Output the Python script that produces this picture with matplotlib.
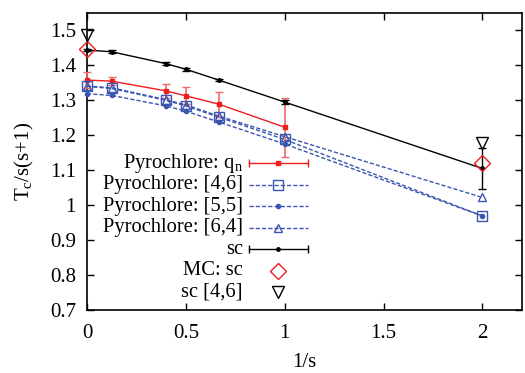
import matplotlib
matplotlib.use("Agg")
import matplotlib.pyplot as plt

plt.rcParams['font.family'] = ['Liberation Serif', 'DejaVu Serif']
plt.rcParams['mathtext.default'] = 'regular'

# 1/s values
x_all = [0, 0.125, 0.4, 0.5, 0.6667, 1.0, 2.0]
x_qn = [0, 0.125, 0.4, 0.5, 0.6667, 1.0]

# Pyrochlore: q_n
qn_y = [1.358, 1.355, 1.327, 1.313, 1.289, 1.223]
qn_err = [0.022, 0.012, 0.019, 0.024, 0.036, 0.084]

# Pyrochlore approximants
p46_y = [1.340, 1.334, 1.300, 1.284, 1.252, 1.188, 0.969]
p55_y = [1.319, 1.314, 1.284, 1.269, 1.238, 1.175, 0.969]
p64_y = [1.341, 1.336, 1.302, 1.287, 1.255, 1.196, 1.022]

# simple cubic
sc_y = [1.444, 1.439, 1.405, 1.389, 1.358, 1.295, 1.105]
sc_err = [0.004, 0.004, 0.004, 0.004, 0.004, 0.005, 0.058]

# Monte Carlo sc and sc [4,6]
x_ref = [0, 2.0]
mc_y = [1.447, 1.122]
sc46_y = [1.486, 1.178]

red = '#ee1c1c'
blue = '#3a56b0'
fs = 15

fig = plt.figure(figsize=(5.25, 3.73), dpi=100)
ax = fig.add_axes([87/525, 1 - 310/373, 435/525, 297/373])

ax.errorbar(x_qn, qn_y, yerr=qn_err, color=red, ecolor='#f06a6a', lw=1,
            elinewidth=1.2, capsize=3, marker='s', ms=3, clip_on=False, zorder=3)
ax.plot(x_all, p46_y, ls='--', dashes=(3, 1.5), color=blue, lw=1, marker='s',
        ms=6.5, mfc='none', mew=1, clip_on=False, zorder=4)
ax.plot(x_all, p55_y, ls='--', dashes=(3, 1.5), color=blue, lw=1, marker='o',
        ms=3, clip_on=False, zorder=4)
ax.plot(x_all, p64_y, ls='--', dashes=(3, 1.5), color=blue, lw=1, marker='^',
        ms=6, mfc='none', mew=1, clip_on=False, zorder=4)
ax.errorbar(x_all, sc_y, yerr=sc_err, color='black', lw=1, elinewidth=1,
            capsize=3, marker='o', ms=2.5, clip_on=False, zorder=5)
ax.plot(x_ref, mc_y, ls='none', marker='D', ms=8.6, mfc='none', mec=red,
        mew=1, clip_on=False, zorder=6)
ax.plot(x_ref, sc46_y, ls='none', marker='v', ms=9, mfc='none', mec='black',
        mew=1, clip_on=False, zorder=6)

ax.set_xlim(0, 2.2)
ax.set_ylim(0.7, 1.55)
ax.set_xticks([0, 0.5, 1, 1.5, 2])
ax.set_xticklabels(['0', '0.5', '1', '1.5', '2'])
ax.set_yticks([0.7, 0.8, 0.9, 1.0, 1.1, 1.2, 1.3, 1.4, 1.5])
ax.set_yticklabels(['0.7', '0.8', '0.9', '1', '1.1', '1.2', '1.3', '1.4', '1.5'])
ax.tick_params(direction='in', top=True, right=True, labelsize=fs, length=5, width=1)
ax.tick_params(axis='x', pad=10)
ax.tick_params(axis='y', pad=8)
for sp in ax.spines.values():
    sp.set_linewidth(1.2)
ax.set_xlabel('1/s', fontsize=fs, labelpad=7)
ax.set_ylabel('T$_c$/s(s+1)', fontsize=fs, labelpad=10)

# gnuplot-style key: text right-aligned, sample to the right
labels = ['Pyrochlore: q$_n$', 'Pyrochlore: [4,6]', 'Pyrochlore: [5,5]',
          'Pyrochlore: [6,4]', 'sc', 'MC: sc', 'sc [4,6]']
styles = [
    dict(color=red, marker='s', ms=3, lw=1, caps=True),
    dict(color=blue, marker='s', ms=6.5, lw=1, ls='--', mfc='none'),
    dict(color=blue, marker='o', ms=3, lw=1, ls='--'),
    dict(color=blue, marker='^', ms=6, lw=1, ls='--', mfc='none'),
    dict(color='black', marker='o', ms=2.5, lw=1, caps=True),
    dict(color=red, marker='D', ms=8.6, lw=0, mfc='none'),
    dict(color='black', marker='v', ms=9, lw=0, mfc='none'),
]
y0 = 0.494
dy = 0.0725
tx, s0, s1, sm = 0.3586, 0.373, 0.507, 0.440
tr = ax.transAxes
for i, (lab, st) in enumerate(zip(labels, styles)):
    yy = y0 - i * dy
    ax.text(tx, yy, lab, transform=tr, ha='right', va='center', fontsize=14.8)
    st = dict(st)
    caps = st.pop('caps', False)
    mfc = st.pop('mfc', st['color'])
    ls = st.pop('ls', '-')
    if st['lw'] > 0:
        ax.plot([s0, s1], [yy, yy], transform=tr, color=st['color'], lw=st['lw'],
                ls=ls, dashes=(3, 1.5) if ls == '--' else (None, None))
    if caps:
        ax.plot([s0, s1], [yy, yy], transform=tr, ls='none', marker='|', ms=6,
                color=st['color'], mew=1)
    ax.plot([sm], [yy], transform=tr, ls='none', marker=st['marker'], ms=st['ms'],
            mfc=mfc, mec=st['color'], mew=1, color=st['color'])

fig.savefig('out.png', dpi=100)
